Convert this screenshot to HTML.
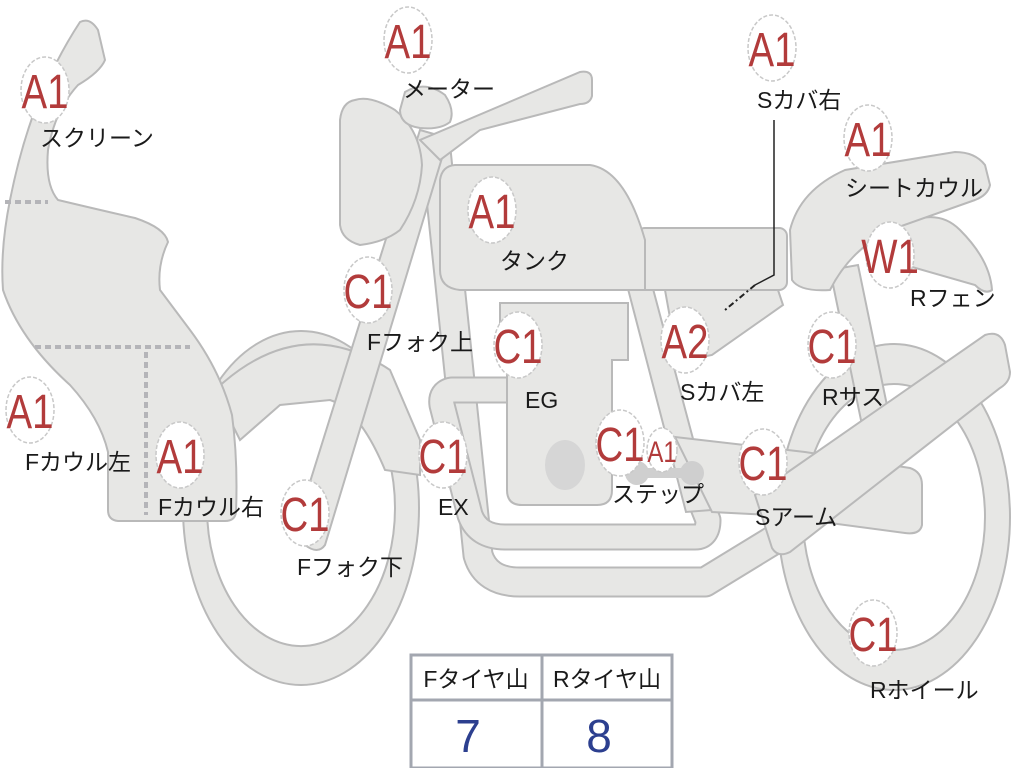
<!DOCTYPE html>
<html><head><meta charset="utf-8"><style>
html,body{margin:0;padding:0;background:#fff;width:1024px;height:768px;overflow:hidden}
svg{display:block}
.s{fill:#e7e7e5;stroke:#b9b9b9;stroke-width:2}
.lab{font-family:"Liberation Sans","Noto Sans CJK JP",sans-serif;font-size:23px;fill:#1a1a1a}
.bd{fill:#ffffff;stroke:#c8c8c8;stroke-width:1.5;stroke-dasharray:4 2}
.bt{font-family:"Liberation Sans",sans-serif;font-size:48px;fill:#b23b3b;text-anchor:middle}
</style></head><body>
<svg width="1024" height="768" viewBox="0 0 1024 768" xmlns="http://www.w3.org/2000/svg">
<path class="s" fill-rule="evenodd" d="M183,508 a118,177 0 1,0 236,0 a118,177 0 1,0 -236,0 Z M207,508 a94,138 0 1,0 188,0 a94,138 0 1,0 -188,0 Z"/>
<path class="s" fill-rule="evenodd" d="M778,517 a116,173 0 1,0 232,0 a116,173 0 1,0 -232,0 Z M803,517 a91,133 0 1,0 182,0 a91,133 0 1,0 -182,0 Z"/>
<path class="s" d="M215,390 Q300,310 390,370 L420,440 L420,475 L385,470 Q360,410 330,400 L280,405 L240,440 Z"/>
<path d="M436,150 L478,555 Q486,582 520,582 L705,582 L790,530" fill="none" stroke="#b9b9b9" stroke-width="31" stroke-linejoin="round"/>
<path d="M436,150 L478,555 Q486,582 520,582 L705,582 L790,530" fill="none" stroke="#e7e7e5" stroke-width="27" stroke-linejoin="round"/>
<path d="M515,390 L452,390 Q440,392 442,405 L470,515 Q478,537 505,537 L695,537 Q708,537 708,520 L700,500" fill="none" stroke="#b9b9b9" stroke-width="27" stroke-linejoin="round"/>
<path d="M515,390 L452,390 Q440,392 442,405 L470,515 Q478,537 505,537 L695,537 Q708,537 708,520 L700,500" fill="none" stroke="#e7e7e5" stroke-width="23" stroke-linejoin="round"/>
<path class="s" d="M627,285 L652,285 L712,510 L686,512 Z"/>
<path class="s" d="M500,303 L628,303 L628,360 L612,360 L612,490 Q612,505 597,505 L522,505 Q507,505 507,490 L507,360 L500,360 Z"/>
<ellipse cx="565" cy="465" rx="20" ry="25" fill="#d6d6d6"/>
<path class="s" d="M675,437 L805,452 L910,468 Q922,472 922,485 L922,525 Q920,535 905,533 L770,515 L712,512 Z"/>
<circle cx="637" cy="473" r="12" fill="#cfcfcf"/><circle cx="692" cy="473" r="12" fill="#cfcfcf"/>
<rect x="630" y="468" width="65" height="10" fill="#cfcfcf"/>
<path class="s" d="M830,270 L858,265 L890,420 L862,425 Z"/>
<path class="s" d="M755,495 L985,335 Q1000,330 1005,345 L1010,372 Q1010,382 1000,388 L790,552 Q778,558 772,548 Z"/>
<path class="s" d="M665,290 L778,290 L783,305 L712,355 L678,362 Z"/>
<rect class="s" x="637" y="228" width="150" height="62" rx="8"/>
<path class="s" d="M880,240 Q930,200 960,230 Q990,260 992,290 Q985,295 975,285 Q940,275 905,265 Z"/>
<path class="s" d="M790,230 Q800,190 845,170 L955,152 Q975,152 985,165 L990,185 Q988,195 975,200 L890,230 Q850,250 830,290 Q800,292 792,280 Z"/>
<path class="s" d="M455,165 L590,165 Q625,170 645,240 L645,290 L460,290 Q440,288 440,270 L440,180 Q442,166 455,165 Z"/>
<path class="s" d="M420,130 L448,138 L325,545 Q318,555 305,545 L295,530 Z"/>
<path class="s" d="M440,160 L420,140 L580,72 Q592,70 592,80 L592,96 Q590,104 580,104 L480,130 Z"/>
<path class="s" d="M355,100 Q370,95 395,110 Q420,130 422,165 Q420,200 400,230 Q385,242 360,245 Q342,240 340,225 L340,120 Q342,102 355,100 Z"/>
<path class="s" d="M405,92 Q425,80 445,95 Q455,110 450,122 Q440,130 420,128 Q400,125 400,110 Z"/>
<path class="s" d="M80,22 Q90,17 98,30 L105,60 Q100,72 78,85 Q55,110 48,150 Q45,185 58,200 Q100,210 135,218 Q165,228 168,242 Q157,265 160,290 L190,330 Q220,370 232,415 Q238,460 236,512 Q235,521 225,521 L118,521 Q108,520 108,510 L108,452 Q100,418 70,385 Q20,340 3,290 Q0,250 10,200 Q20,150 35,110 Q55,60 80,22 Z"/>
<g stroke="#b4b4b8" stroke-width="4" stroke-dasharray="6 4">
<line x1="5" y1="202" x2="48" y2="202"/><line x1="35" y1="347" x2="190" y2="347"/><line x1="146" y1="352" x2="146" y2="515"/>
</g>
<path d="M774,120 L774,275 L755,285" fill="none" stroke="#222" stroke-width="1.5"/>
<path d="M755,285 L725,310" fill="none" stroke="#222" stroke-width="2" stroke-dasharray="6 3 2 3"/>
<g>
<ellipse class="bd" cx="45" cy="90" rx="24" ry="33"/><text class="bt" transform="translate(45,108) scale(0.8,1)">A1</text>
<ellipse class="bd" cx="408" cy="40" rx="24" ry="33"/><text class="bt" transform="translate(408,58) scale(0.8,1)">A1</text>
<ellipse class="bd" cx="492" cy="210" rx="24" ry="33"/><text class="bt" transform="translate(492,228) scale(0.8,1)">A1</text>
<ellipse class="bd" cx="368" cy="290" rx="24" ry="33"/><text class="bt" transform="translate(368,308) scale(0.8,1)">C1</text>
<ellipse class="bd" cx="518" cy="345" rx="24" ry="33"/><text class="bt" transform="translate(518,363) scale(0.8,1)">C1</text>
<ellipse class="bd" cx="685" cy="340" rx="24" ry="33"/><text class="bt" transform="translate(685,358) scale(0.8,1)">A2</text>
<ellipse class="bd" cx="772" cy="48" rx="24" ry="33"/><text class="bt" transform="translate(772,66) scale(0.8,1)">A1</text>
<ellipse class="bd" cx="868" cy="138" rx="24" ry="33"/><text class="bt" transform="translate(868,156) scale(0.8,1)">A1</text>
<ellipse class="bd" cx="890" cy="255" rx="24" ry="33"/><text class="bt" transform="translate(890,273) scale(0.8,1)">W1</text>
<ellipse class="bd" cx="832" cy="345" rx="24" ry="33"/><text class="bt" transform="translate(832,363) scale(0.8,1)">C1</text>
<ellipse class="bd" cx="30" cy="410" rx="24" ry="33"/><text class="bt" transform="translate(30,428) scale(0.8,1)">A1</text>
<ellipse class="bd" cx="180" cy="455" rx="24" ry="33"/><text class="bt" transform="translate(180,473) scale(0.8,1)">A1</text>
<ellipse class="bd" cx="305" cy="513" rx="24" ry="33"/><text class="bt" transform="translate(305,531) scale(0.8,1)">C1</text>
<ellipse class="bd" cx="443" cy="455" rx="24" ry="33"/><text class="bt" transform="translate(443,473) scale(0.8,1)">C1</text>
<ellipse class="bd" cx="620" cy="443" rx="24" ry="33"/><text class="bt" transform="translate(620,461) scale(0.8,1)">C1</text>
<ellipse class="bd" cx="662" cy="450" rx="15" ry="22"/><text class="bt" transform="translate(662,462) scale(0.8,1)" style="font-size:30px">A1</text>
<ellipse class="bd" cx="763" cy="462" rx="24" ry="33"/><text class="bt" transform="translate(763,480) scale(0.8,1)">C1</text>
<ellipse class="bd" cx="873" cy="633" rx="24" ry="33"/><text class="bt" transform="translate(873,651) scale(0.8,1)">C1</text>
</g>
<g class="lab">
<text x="40" y="146">スクリーン</text>
<text x="403" y="97">メーター</text>
<text x="500" y="269">タンク</text>
<text x="367" y="350">Fフォク上</text>
<text x="525" y="408">EG</text>
<text x="680" y="400">Sカバ左</text>
<text x="757" y="108">Sカバ右</text>
<text x="845" y="196">シートカウル</text>
<text x="910" y="306">Rフェン</text>
<text x="822" y="405">Rサス</text>
<text x="25" y="470">Fカウル左</text>
<text x="158" y="515">Fカウル右</text>
<text x="297" y="575">Fフォク下</text>
<text x="438" y="515">EX</text>
<text x="612" y="502">ステップ</text>
<text x="755" y="525">Sアーム</text>
<text x="870" y="698">Rホイール</text>
</g>
<rect x="411" y="655" width="261" height="113" fill="#fff" stroke="#a3a7b0" stroke-width="3"/>
<line x1="411" y1="700" x2="672" y2="700" stroke="#a3a7b0" stroke-width="3"/>
<line x1="542" y1="655" x2="542" y2="768" stroke="#a3a7b0" stroke-width="3"/>
<text class="lab" x="476" y="687" text-anchor="middle">Fタイヤ山</text>
<text class="lab" x="607" y="687" text-anchor="middle">Rタイヤ山</text>
<text x="468" y="752" font-family="Liberation Sans,sans-serif" font-size="46" fill="#2c3f8f" text-anchor="middle">7</text>
<text x="599" y="752" font-family="Liberation Sans,sans-serif" font-size="46" fill="#2c3f8f" text-anchor="middle">8</text>
</svg>
</body></html>
